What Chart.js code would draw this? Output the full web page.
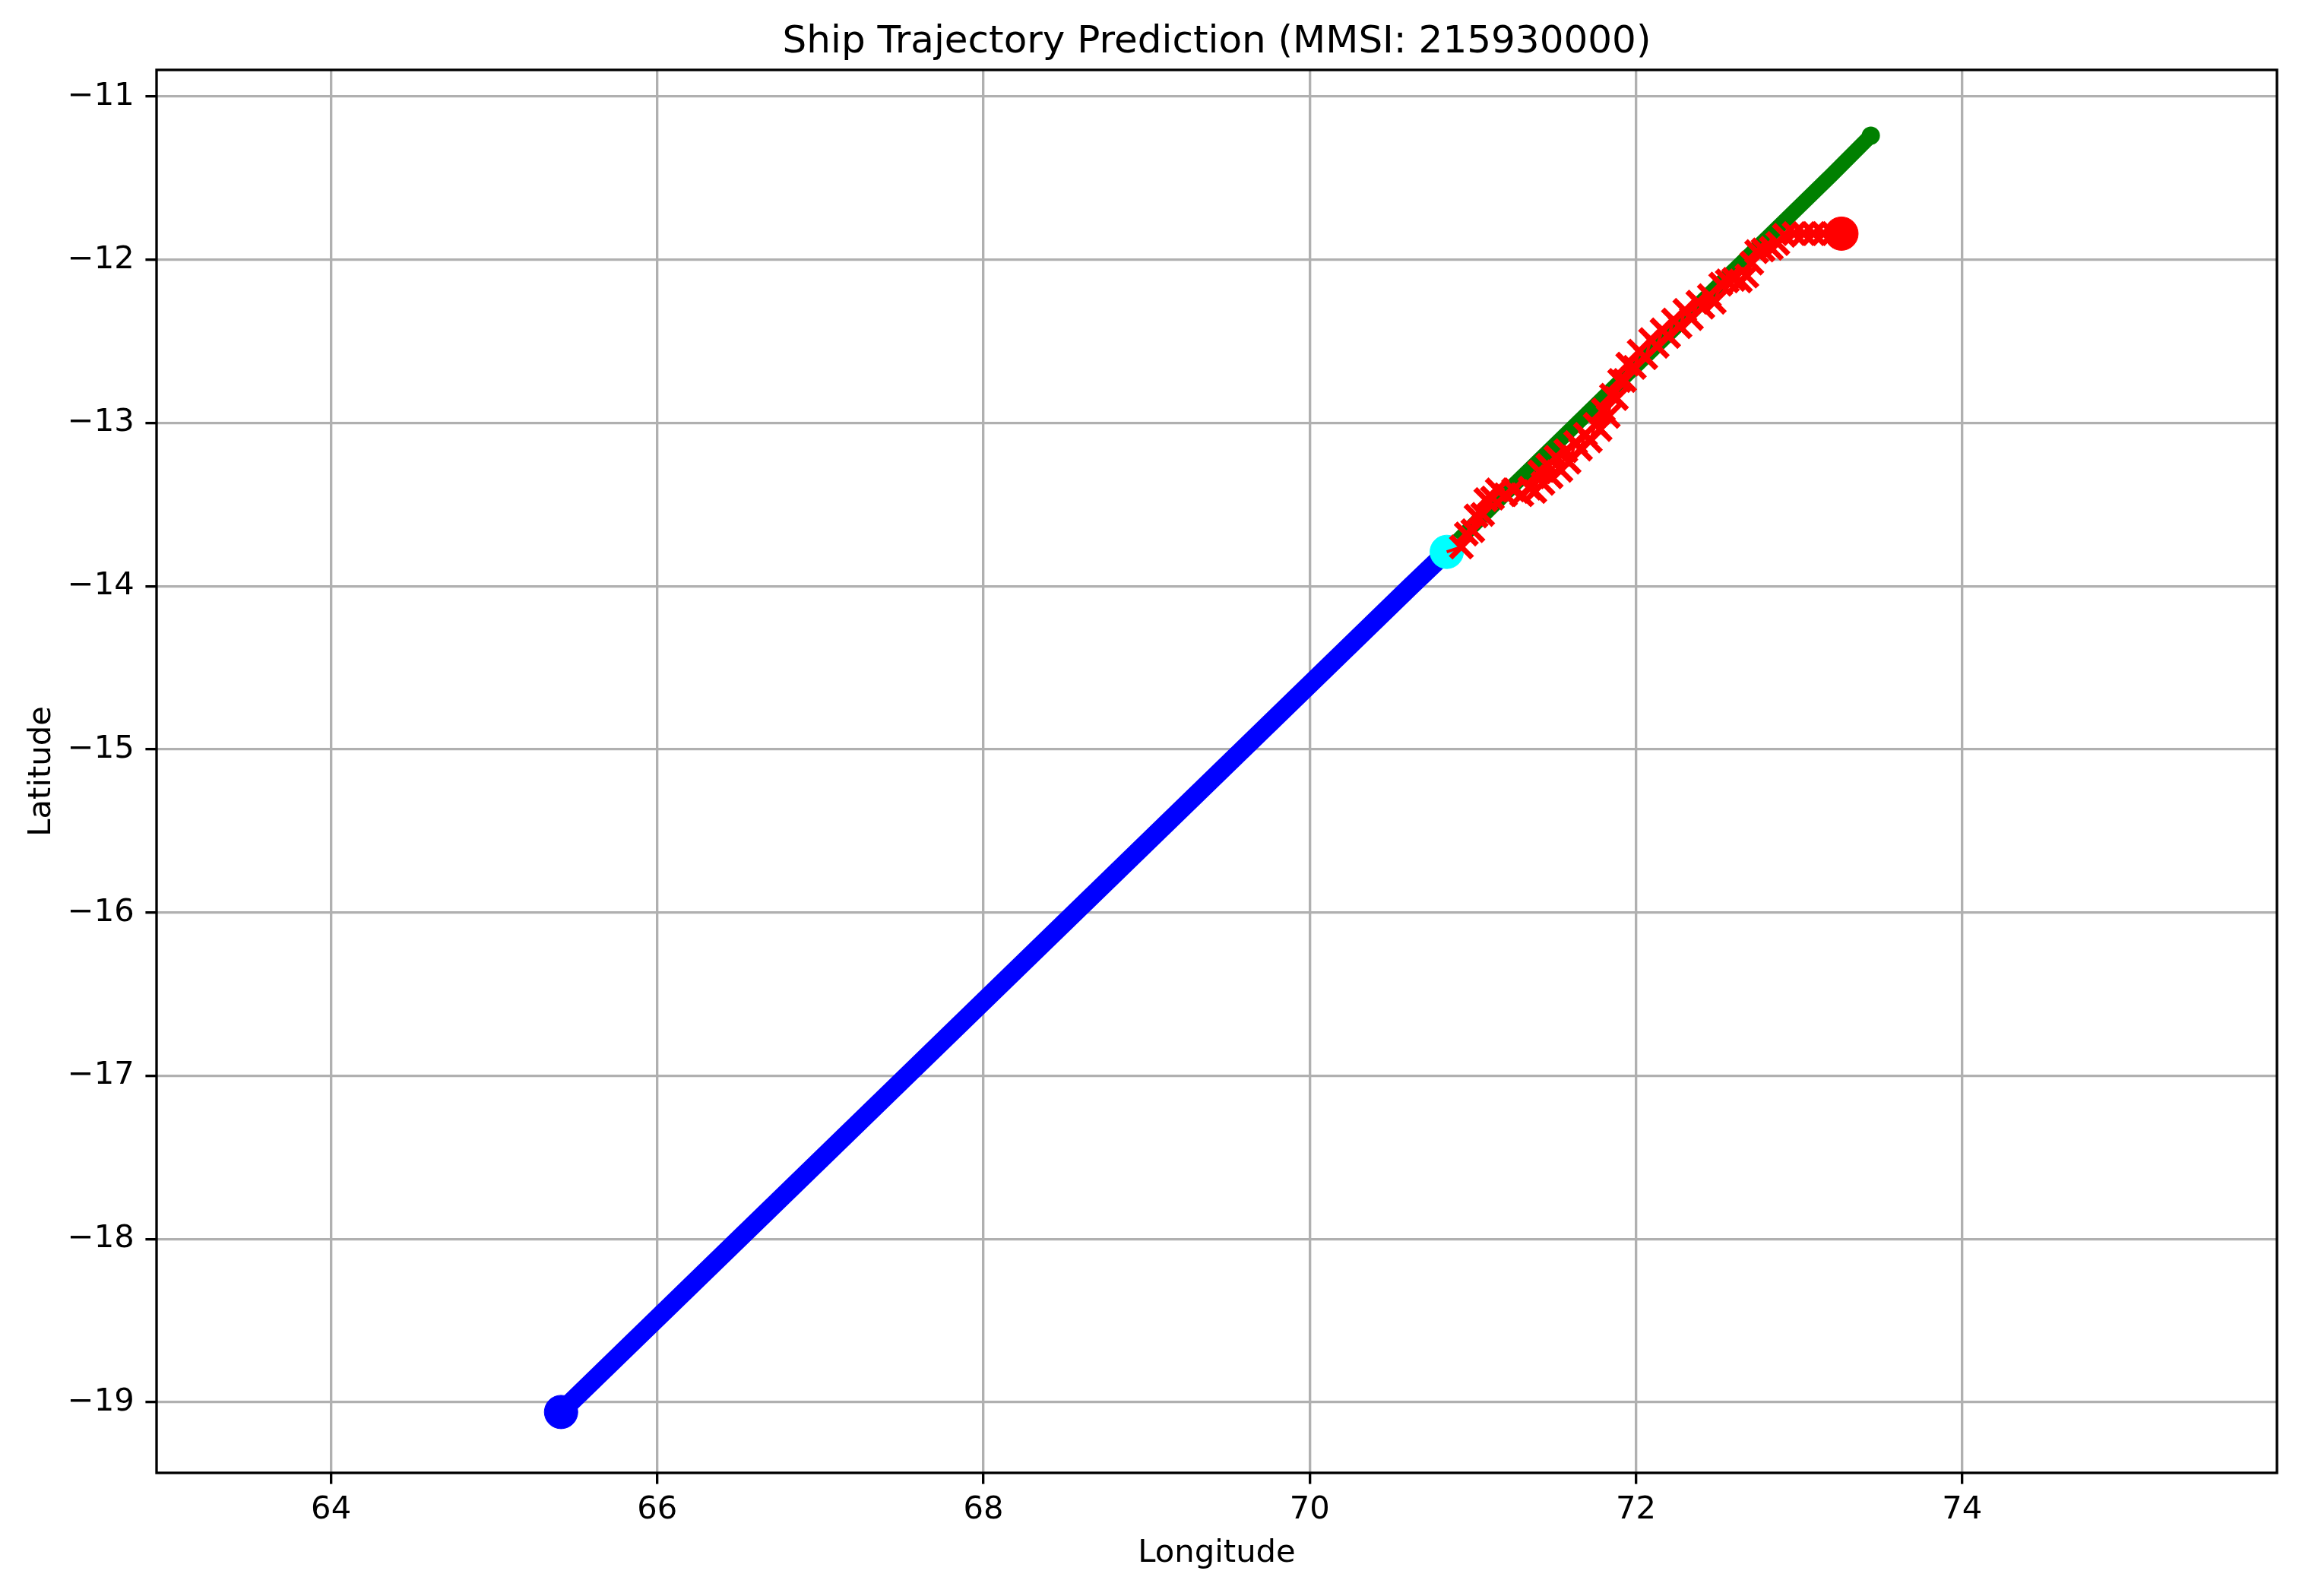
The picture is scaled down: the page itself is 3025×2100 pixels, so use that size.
<!DOCTYPE html>
<html>
<head>
<meta charset="utf-8">
<script src="https://cdn.jsdelivr.net/npm/chart.js@4.4.1/dist/chart.umd.min.js"></script>
<style>
  html, body { margin: 0; padding: 0; background: #fff; }
  canvas { display: block; }
</style>
</head>
<body>
<canvas id="chart" width="3025" height="2100" style="width:3025px;height:2100px"></canvas>
<script>
// historical track (blue)
const histLon = [65.41, 65.47, 66.50, 67.53, 68.56, 69.59, 70.62, 70.84];
const histLat = [-19.06, -19.00, -18.00, -17.00, -16.00, -15.00, -14.00, -13.79];

// actual future track (green)
const trueLon = [70.84, 71.20, 71.60, 72.00, 72.40, 72.80, 73.20, 73.44];
const trueLat = [-13.79, -13.43, -13.04, -12.65, -12.26, -11.87, -11.48, -11.24];

// predicted track (red x), zig-zags around the actual track
const predLon = [70.84, 70.93, 70.96, 71.00, 71.02, 71.06, 71.08, 71.12, 71.15, 71.20, 71.25, 71.30,
  71.35, 71.38, 71.41, 71.43, 71.46, 71.48, 71.51, 71.54, 71.57, 71.59, 71.63, 71.66, 71.69,
  71.72, 71.75, 71.78, 71.80, 71.83, 71.85, 71.88, 71.90, 71.93, 71.95, 71.99, 72.02, 72.06,
  72.09, 72.13, 72.16, 72.20, 72.23, 72.27, 72.30, 72.34, 72.38, 72.41, 72.45, 72.48, 72.52,
  72.56, 72.60, 72.64, 72.68, 72.71, 72.74, 72.78, 72.83, 72.87, 72.91, 72.97, 73.03, 73.09,
  73.15, 73.21, 73.25];
const predLat = [-13.79, -13.76, -13.68, -13.66, -13.57, -13.56, -13.47, -13.46, -13.41, -13.44, -13.41, -13.44,
  -13.40, -13.42, -13.30, -13.37, -13.26, -13.33, -13.21, -13.29, -13.17, -13.24, -13.12, -13.16, -13.07,
  -13.11, -13.01, -13.04, -12.92, -12.96, -12.83, -12.85, -12.74, -12.74, -12.64, -12.66, -12.56, -12.60,
  -12.49, -12.53, -12.43, -12.47, -12.37, -12.41, -12.31, -12.36, -12.26, -12.29, -12.22, -12.26, -12.15,
  -12.13, -12.12, -12.13, -12.10, -12.02, -11.95, -11.94, -11.93, -11.90, -11.85, -11.84, -11.84, -11.84,
  -11.84, -11.84, -11.84];

// single markers
const startPoint = [65.41, -19.06];
const currentPoint = [70.84, -13.79];
const predEndPoint = [73.26, -11.84];

const xTicks = [64, 66, 68, 70, 72, 74];
const yTicks = [-19, -18, -17, -16, -15, -14, -13, -12, -11];
const xRange = [62.93, 75.93];
const yRange = [-19.433, -10.837];

function pts(xs, ys) {
  return xs.map((x, i) => ({ x: x, y: ys[i] }));
}

function minus(v) {
  return v < 0 ? '\u2212' + Math.abs(v) : String(v);
}

const FONT = 'DejaVu Sans';

const frame = {
  id: 'frame',
  afterDraw(chart) {
    const { ctx, chartArea: a } = chart;
    ctx.save();
    ctx.strokeStyle = '#000';
    ctx.lineWidth = 3.33;
    ctx.strokeRect(a.left, a.top, a.right - a.left, a.bottom - a.top);
    ctx.restore();
  }
};

new Chart(document.getElementById('chart'), {
  type: 'scatter',
  data: {
    datasets: [
      {
        data: [{ x: predEndPoint[0], y: predEndPoint[1] }],
        pointRadius: 22, pointBackgroundColor: '#ff0000', pointBorderColor: '#ff0000',
        pointBorderWidth: 1, order: 0
      },
      {
        data: pts(predLon, predLat),
        showLine: true, borderColor: '#ff0000', borderWidth: 4,
        pointStyle: 'crossRot',
        pointRadius: predLon.map((v, i) => i === 0 ? 0 : 20),
        pointBorderColor: '#ff0000', pointBorderWidth: 7, order: 1
      },
      {
        data: [{ x: currentPoint[0], y: currentPoint[1] }],
        pointRadius: 22, pointBackgroundColor: '#00ffff', pointBorderColor: '#00ffff',
        pointBorderWidth: 1, order: 2
      },
      {
        data: [{ x: startPoint[0], y: startPoint[1] }],
        pointRadius: 22, pointBackgroundColor: '#0000ff', pointBorderColor: '#0000ff',
        pointBorderWidth: 1, order: 3
      },
      {
        data: pts(trueLon, trueLat),
        showLine: true, borderColor: '#008000', borderWidth: 20,
        borderCapStyle: 'round', borderJoinStyle: 'round',
        pointRadius: trueLon.map((v, i) => i === trueLon.length - 1 ? 12 : 0),
        pointBackgroundColor: '#008000', pointBorderWidth: 0, order: 4
      },
      {
        data: pts(histLon, histLat),
        showLine: true, borderColor: '#0000ff', borderWidth: 25,
        borderCapStyle: 'round', borderJoinStyle: 'round',
        pointRadius: 0, order: 5
      }
    ]
  },
  options: {
    responsive: false,
    animation: false,
    devicePixelRatio: 1,
    layout: { padding: { left: 0, right: 29, top: 0, bottom: 0 } },
    elements: { line: { tension: 0 } },
    plugins: {
      legend: { display: false },
      tooltip: { enabled: false },
      title: {
        display: true,
        fullSize: false,
        text: 'Ship Trajectory Prediction (MMSI: 215930000)',
        color: '#000',
        font: { family: FONT, size: 50, weight: 'normal', lineHeight: 1.2 },
        padding: { top: 26, bottom: 6 }
      }
    },
    scales: {
      x: {
        type: 'linear',
        min: xRange[0], max: xRange[1],
        afterBuildTicks: s => { s.ticks = xTicks.map(v => ({ value: v })); },
        afterFit: s => { s.height = 162; },
        grid: { color: '#b0b0b0', lineWidth: 3.33, tickColor: '#000', tickWidth: 3.33, tickLength: 14.6 },
        border: { display: false },
        ticks: {
          color: '#000', padding: 10, maxRotation: 0, autoSkip: false,
          font: { family: FONT, size: 41.7, lineHeight: 1.2 },
          callback: v => minus(v)
        },
        title: {
          display: true, text: 'Longitude', color: '#000',
          font: { family: FONT, size: 41.7, lineHeight: 1.2 },
          padding: { top: 0, bottom: 31 }
        }
      },
      y: {
        type: 'linear',
        min: yRange[0], max: yRange[1],
        afterBuildTicks: s => { s.ticks = yTicks.map(v => ({ value: v })); },
        afterFit: s => { s.width = 206; },
        grid: { color: '#b0b0b0', lineWidth: 3.33, tickColor: '#000', tickWidth: 3.33, tickLength: 14.6 },
        border: { display: false },
        ticks: {
          color: '#000', padding: 14.6, autoSkip: false,
          font: { family: FONT, size: 41.7, lineHeight: 1.2 },
          callback: v => minus(v)
        },
        title: {
          display: true, text: 'Latitude', color: '#000',
          font: { family: FONT, size: 41.7, lineHeight: 1.2 },
          padding: { top: 30, bottom: 0 }
        }
      }
    }
  },
  plugins: [frame]
});
</script>
</body>
</html>
